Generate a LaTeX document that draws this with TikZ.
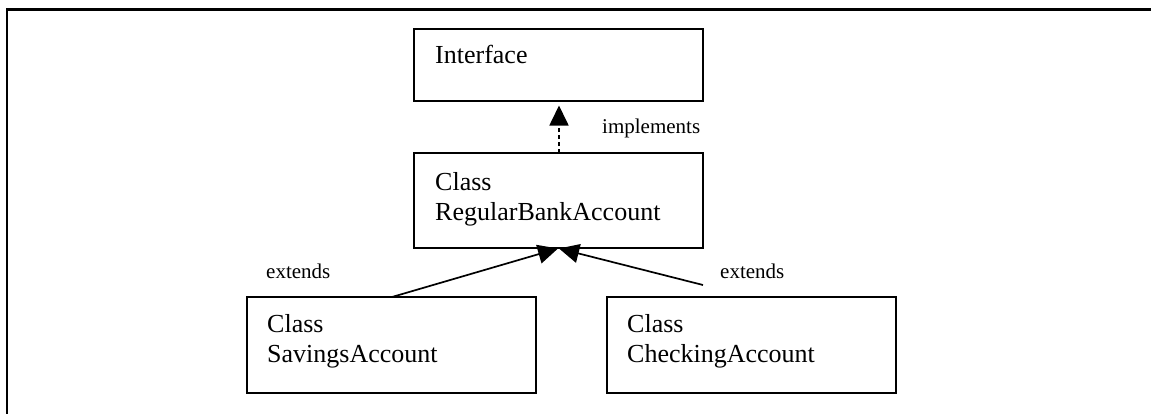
\documentclass[tikz,border=0pt]{standalone}
\usepackage{fontspec}
\setmainfont{Liberation Serif}
\usetikzlibrary{arrows.meta}
\begin{document}
\begin{tikzpicture}[x=1pt,y=-1pt,
  box/.style={draw=black,line width=1.7pt,minimum width=289pt,minimum height=96pt,anchor=north west,inner sep=0pt,outer sep=0pt},
  txt/.style={anchor=base west,inner sep=0pt,font=\fontsize{26}{30}\selectfont},
  lbl/.style={anchor=base west,inner sep=0pt,font=\fontsize{21}{25}\selectfont},
  conn/.style={line width=1.7pt,-{Triangle[length=20pt,width=19pt]}},
  frame/.style={line width=2.2pt,draw=black}]
\useasboundingbox (0,0) rectangle (1151,413);
\clip (0,0) rectangle (1151,413);
\fill[white] (0,0) rectangle (1151,413);
\draw[frame] (7,430) -- (7,9.5) -- (1170,9.5);
% boxes
\node[box,minimum height=72pt] (iface) at (414,29) {};
\node[box,minimum height=95pt] (rba) at (414,153) {};
\node[box] (sav) at (247,297) {};
\node[box] (chk) at (607,297) {};
% texts
\node[txt] (ifacet) at ([shift={(21,34)}]iface.north west) {Interface};
\node[txt] (rbat1) at ([shift={(21,37)}]rba.north west) {Class};
\node[txt] (rbat2) at ([shift={(21,67)}]rba.north west) {RegularBankAccount};
\node[txt] (savt1) at ([shift={(20,35)}]sav.north west) {Class};
\node[txt] (savt2) at ([shift={(20,65)}]sav.north west) {SavingsAccount};
\node[txt] (chkt1) at ([shift={(20,35)}]chk.north west) {Class};
\node[txt] (chkt2) at ([shift={(20,65)}]chk.north west) {CheckingAccount};
% labels
\node[lbl] (impl) at (602,133) {implements};
\node[lbl] (extl) at (266,278) {extends};
\node[lbl] (extr) at (720,278) {extends};
% connectors
\coordinate (rbatop) at ([shift={(145,0)}]rba.north west);
\coordinate (ifbot) at ([shift={(145,4.5)}]iface.south west);
\draw[conn,dash pattern=on 4pt off 3pt] (rbatop) -- (ifbot);
\coordinate (savtop) at ([shift={(145,0)}]sav.north west);
\coordinate (chkstart) at ([shift={(96,-12)}]chk.north west);
\coordinate (tipl) at ([shift={(144,0.5)}]rba.south west);
\coordinate (tipr) at ([shift={(145,0.5)}]rba.south west);
\draw[conn] (savtop) -- (tipl);
\draw[conn] (chkstart) -- (tipr);
\end{tikzpicture}
\end{document}
